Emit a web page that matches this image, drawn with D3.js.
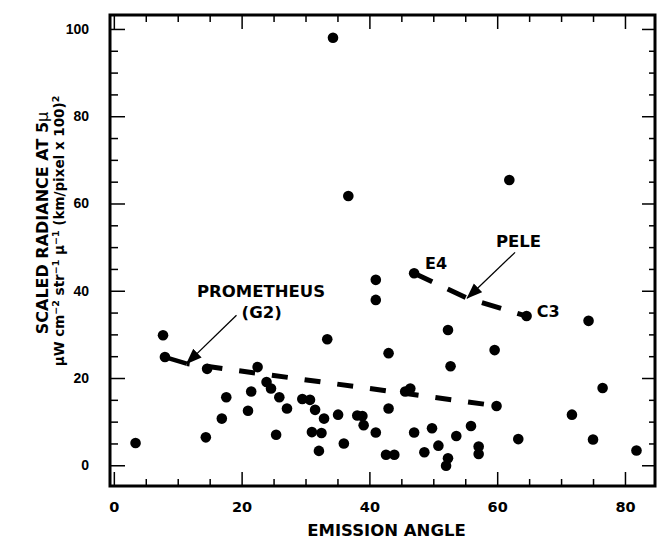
<!DOCTYPE html>
<html>
<head>
<meta charset="utf-8">
<script src="https://cdn.jsdelivr.net/npm/d3@7"></script>
<style>
  body { margin: 0; background: #fff; }
  svg { display: block; background: #fff; }
  .lbl { font-family: 'DejaVu Sans', sans-serif; font-weight: bold; fill: #000; }
  .tick line { stroke: #000; stroke-width: 1.5; }
</style>
</head>
<body>
<svg id="chart"></svg>
<script>
// emission angle (deg) and scaled radiance for each hot spot
const angle = [3.4, 7.7, 8.0, 14.4, 14.6, 16.9, 17.6, 21.0, 21.5, 22.5,
               23.9, 24.6, 25.9, 25.4, 27.1, 33.4, 29.5, 30.7, 31.5, 32.9,
               31.0, 32.5, 32.1, 35.1, 36.0, 38.1, 38.9, 39.1, 41.0, 43.0,
               43.0, 42.6, 43.9, 52.3, 59.6, 52.7, 45.6, 46.4, 59.9, 47.0,
               49.8, 53.6, 55.9, 63.3, 48.6, 50.8, 52.3, 52.0, 57.1, 57.1,
               64.6, 74.3, 76.5, 71.7, 75.0, 81.8, 47.0, 41.0, 41.0, 36.7,
               61.9, 34.3];
const radiance = [5.1, 29.8, 24.8, 6.4, 22.1, 10.7, 15.6, 12.5, 16.9, 22.5,
                  19.1, 17.6, 15.6, 7.0, 13.0, 28.9, 15.2, 15.0, 12.7, 10.7,
                  7.6, 7.4, 3.3, 11.6, 5.0, 11.4, 11.3, 9.2, 7.5, 25.7,
                  13.0, 2.4, 2.4, 31.0, 26.4, 22.7, 16.9, 17.6, 13.6, 7.5,
                  8.5, 6.7, 9.0, 6.0, 3.0, 4.5, 1.6, -0.1, 4.3, 2.6,
                  34.2, 33.1, 17.7, 11.6, 5.9, 3.4, 44.0, 42.5, 37.9, 61.7,
                  65.4, 98.0];

// trend lines for the two volcanoes
const promAngle = [8.0, 11.4, 60.0];
const promRad = [24.8, 23.3, 13.6];
const peleAngle = [47.0, 55.3, 64.6];
const peleRad = [44.0, 38.3, 34.2];

const xTicks = [0, 20, 40, 60, 80];
const yTicks = [0, 20, 40, 60, 80, 100];
const xMinor = [5, 10, 15, 25, 30, 35, 45, 50, 55, 65, 70, 75];
const yMinor = [5, 10, 15, 25, 30, 35, 45, 50, 55, 65, 70, 75, 85, 90, 95];

const W = 658, H = 542;
const mLeft = 110, mRight = 655, mTop = 15, mBottom = 486;

const svg = d3.select('#chart').attr('width', W).attr('height', H);

const x = d3.scaleLinear().domain([-0.6, 84.7]).range([mLeft, mRight]);
const y = d3.scaleLinear().domain([-4.75, 103.2]).range([mBottom, mTop]);

function clean(g) {
    g.select('.domain').remove();
}

// bottom axis: inward ticks, labels below
svg.append('g').attr('transform', 'translate(0,' + mBottom + ')')
    .call(d3.axisBottom(x).tickValues(xTicks).tickSize(-14).tickPadding(16).tickFormat(d3.format('d')))
    .call(clean)
    .call(g => g.selectAll('text').attr('class', 'lbl').style('font-size', '14.5px'));
svg.append('g').attr('transform', 'translate(0,' + mBottom + ')')
    .call(d3.axisBottom(x).tickValues(xMinor).tickSize(-7).tickFormat(''))
    .call(clean);

// top axis mirror
svg.append('g').attr('transform', 'translate(0,' + mTop + ')')
    .call(d3.axisTop(x).tickValues(xTicks).tickSize(-14).tickFormat(''))
    .call(clean);
svg.append('g').attr('transform', 'translate(0,' + mTop + ')')
    .call(d3.axisTop(x).tickValues(xMinor).tickSize(-7).tickFormat(''))
    .call(clean);

// left axis
svg.append('g').attr('transform', 'translate(' + mLeft + ',0)')
    .call(d3.axisLeft(y).tickValues(yTicks).tickSize(-15).tickPadding(21).tickFormat(d3.format('d')))
    .call(clean)
    .call(g => g.selectAll('text')
        .style('font-family', "'Liberation Sans', Arial, sans-serif")
        .style('font-weight', 'bold').style('font-size', '14px').attr('fill', '#000'));
svg.append('g').attr('transform', 'translate(' + mLeft + ',0)')
    .call(d3.axisLeft(y).tickValues(yMinor).tickSize(-8).tickFormat(''))
    .call(clean);

// right axis mirror
svg.append('g').attr('transform', 'translate(' + mRight + ',0)')
    .call(d3.axisRight(y).tickValues(yTicks).tickSize(-13).tickFormat(''))
    .call(clean);
svg.append('g').attr('transform', 'translate(' + mRight + ',0)')
    .call(d3.axisRight(y).tickValues(yMinor).tickSize(-6).tickFormat(''))
    .call(clean);

// frame
svg.append('rect')
    .attr('x', mLeft).attr('y', mTop)
    .attr('width', mRight - mLeft).attr('height', mBottom - mTop)
    .attr('fill', 'none').attr('stroke', '#000').attr('stroke-width', 3);

// arrow marker
svg.append('defs').append('marker')
    .attr('id', 'head')
    .attr('markerUnits', 'userSpaceOnUse')
    .attr('viewBox', '0 -7 16 14')
    .attr('refX', 15).attr('refY', 0)
    .attr('markerWidth', 16).attr('markerHeight', 14)
    .attr('orient', 'auto')
    .append('path').attr('d', 'M0,-6L16,0L0,6Z').attr('fill', '#000');

const line = d3.line().x(d => x(d[0])).y(d => y(d[1]));

// Prometheus: short solid piece, then dashes
const prom = promAngle.map((a, i) => [a, promRad[i]]);
svg.append('path').attr('d', line(prom.slice(0, 2)))
    .attr('fill', 'none').attr('stroke', '#000').attr('stroke-width', 4.5);
svg.append('path').attr('d', line(prom.slice(1)))
    .attr('fill', 'none').attr('stroke', '#000').attr('stroke-width', 5)
    .attr('stroke-dasharray', '16,17').attr('stroke-dashoffset', 13);

// Pele
const pele = peleAngle.map((a, i) => [a, peleRad[i]]);
svg.append('path').attr('d', line(pele))
    .attr('fill', 'none').attr('stroke', '#000').attr('stroke-width', 5)
    .attr('stroke-dasharray', '20,17').attr('stroke-linejoin', 'miter');

// points
svg.append('g').selectAll('circle')
    .data(angle.map((a, i) => [a, radiance[i]]))
    .join('circle')
    .attr('cx', d => x(d[0]))
    .attr('cy', d => y(d[1]))
    .attr('r', 5.3)
    .attr('fill', '#000');

// annotation arrows (data units)
const arrows = [
    {from: [19.2, 34.4], to: [11.4, 23.3]},
    {from: [62.8, 48.8], to: [55.3, 38.3]}
];
svg.append('g').selectAll('line')
    .data(arrows)
    .join('line')
    .attr('x1', d => x(d.from[0])).attr('y1', d => y(d.from[1]))
    .attr('x2', d => x(d.to[0])).attr('y2', d => y(d.to[1]))
    .attr('stroke', '#000').attr('stroke-width', 1.3)
    .attr('marker-end', 'url(#head)');

// annotation labels (data units)
const notes = [
    {t: 'PROMETHEUS', at: [13.0, 38.6], size: 16.5},
    {t: '(G2)', at: [20.0, 33.7], size: 16.5},
    {t: 'PELE', at: [59.8, 50.1], size: 16.5},
    {t: 'E4', at: [48.7, 44.9], size: 16},
    {t: 'C3', at: [66.2, 34.05], size: 16}
];
svg.append('g').selectAll('text')
    .data(notes)
    .join('text')
    .attr('class', 'lbl')
    .attr('x', d => x(d.at[0])).attr('y', d => y(d.at[1]))
    .style('font-size', d => d.size + 'px')
    .text(d => d.t);

// x title
svg.append('text').attr('class', 'lbl')
    .attr('x', (mLeft + mRight) / 2 + 4).attr('y', 536)
    .attr('text-anchor', 'middle')
    .style('font-size', '16.5px')
    .text('EMISSION ANGLE');

// y title, two lines
const yt1 = svg.append('text').attr('class', 'lbl')
    .attr('transform', 'translate(48,223) rotate(-90)')
    .attr('text-anchor', 'middle')
    .style('font-size', '16px');
yt1.append('tspan').text('SCALED RADIANCE AT 5');
yt1.append('tspan').style('font-weight', 'normal').text('\u03bc');

const yt2 = svg.append('text').attr('class', 'lbl')
    .attr('transform', 'translate(64,231) rotate(-90)')
    .attr('text-anchor', 'middle')
    .style('font-size', '13.5px');
const parts = [
    ['\u03bcW cm', 0], ['\u22122', 1], [' str', 0], ['\u22121', 1],
    [' \u03bc', 0], ['\u22121', 1], [' (km/pixel x 100)', 0], ['2', 1]
];
let up = false;
parts.forEach(p => {
    const ts = yt2.append('tspan').text(p[0]);
    if (p[1]) {
        ts.style('font-size', '9.5px').attr('dy', -5);
        up = true;
    } else if (up) {
        ts.attr('dy', 5);
        up = false;
    }
});
</script>
</body>
</html>
